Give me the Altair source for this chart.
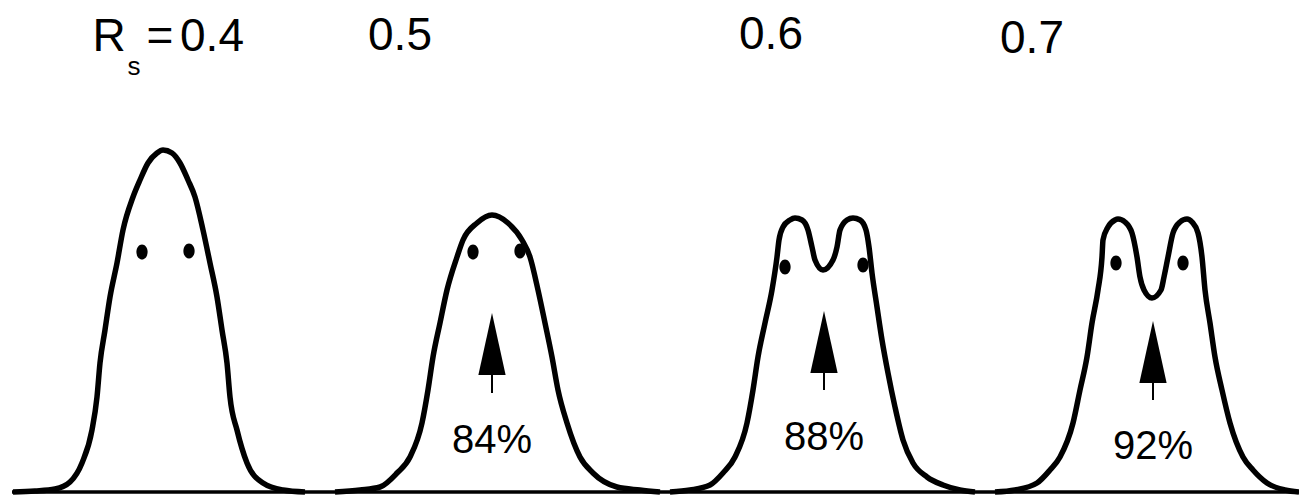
import altair as alt
import pandas as pd

# ---- peak profiles (time, detector signal) ----
c1_t = [0.13, 0.35, 0.55, 0.70, 0.82, 0.92, 0.97, 1.00, 1.05, 1.10, 1.17, 1.23, 1.33, 1.40, 1.48, 1.57, 1.63,
        1.72, 1.80, 1.88, 1.95, 2.03, 2.10, 2.17, 2.22, 2.27, 2.30, 2.37, 2.47, 2.63, 2.83, 3.05]
c1_s = [0.00, 0.01, 0.03, 0.10, 0.29, 0.62, 0.95, 1.29, 1.62, 1.95, 2.29, 2.62, 2.95, 3.12, 3.29, 3.39, 3.42,
        3.39, 3.29, 3.12, 2.95, 2.62, 2.29, 1.95, 1.62, 1.29, 0.95, 0.62, 0.29, 0.09, 0.02, 0.00]

c2_t = [3.35, 3.60, 3.80, 3.97, 4.10, 4.22, 4.28, 4.33, 4.40, 4.47, 4.57, 4.63, 4.77, 4.92,
        5.08, 5.22, 5.30, 5.38, 5.45, 5.52, 5.58, 5.67, 5.80, 5.93, 6.17, 6.40, 6.60]
c2_s = [0.00, 0.02, 0.05, 0.19, 0.35, 0.69, 1.02, 1.35, 1.69, 2.02, 2.35, 2.52, 2.69, 2.77,
        2.69, 2.52, 2.35, 2.02, 1.69, 1.35, 1.02, 0.69, 0.35, 0.19, 0.05, 0.02, 0.00]

c3_t = [6.70, 6.90, 7.10, 7.23, 7.35, 7.47, 7.53, 7.58, 7.65, 7.72, 7.77, 7.79, 7.83, 7.90, 7.95, 8.02,
        8.08, 8.12, 8.15, 8.23, 8.33, 8.37, 8.40, 8.47, 8.53, 8.60, 8.66, 8.69, 8.72, 8.77, 8.82,
        8.88, 8.95, 9.03, 9.13, 9.27, 9.43, 9.60, 9.75]
c3_s = [0.00, 0.02, 0.07, 0.19, 0.35, 0.69, 1.02, 1.35, 1.69, 2.02, 2.35, 2.52, 2.65, 2.72, 2.74, 2.72,
        2.62, 2.45, 2.32, 2.22, 2.32, 2.45, 2.62, 2.72, 2.74, 2.72, 2.62, 2.45, 2.19, 1.85, 1.52,
        1.19, 0.85, 0.52, 0.29, 0.15, 0.07, 0.02, 0.00]

c4_t = [9.95, 10.15, 10.37, 10.50, 10.60, 10.73, 10.80, 10.87, 10.92, 10.98, 11.02, 11.03, 11.08, 11.15,
        11.18, 11.25, 11.32, 11.37, 11.40, 11.44, 11.52, 11.61, 11.64, 11.68, 11.73, 11.80, 11.87,
        11.92, 11.98, 12.02, 12.05, 12.10, 12.15, 12.22, 12.30, 12.43, 12.53, 12.67, 12.85, 12.99]
c4_s = [0.00, 0.02, 0.09, 0.22, 0.35, 0.69, 1.02, 1.35, 1.69, 2.02, 2.35, 2.52, 2.65, 2.72,
        2.73, 2.70, 2.59, 2.35, 2.15, 2.02, 1.94, 2.02, 2.15, 2.35, 2.59, 2.70, 2.73,
        2.70, 2.59, 2.35, 2.02, 1.69, 1.35, 1.02, 0.69, 0.35, 0.22, 0.09, 0.02, 0.00]

resolutions = ["0.4", "0.5", "0.6", "0.7"]

# peak-position markers
dot_t = [1.42, 1.89, 4.73, 5.20, 7.85, 8.63, 11.16, 11.83]
dot_s = [2.40, 2.41, 2.40, 2.41, 2.25, 2.27, 2.29, 2.29]

# valley arrows and purity labels
arrow_t = [4.92, 8.24, 11.53]
arrow_tip = [1.79, 1.80, 1.70]
arrow_base = [1.17, 1.20, 1.10]
arrow_tail = [0.99, 1.02, 0.92]
pct_labels = ["84%", "88%", "92%"]
pct_s = [0.39, 0.42, 0.33]

# header labels
head_text = ["R", "s", "=", "0.4", "0.5", "0.6", "0.7"]
head_t = [1.09, 1.34, 1.60, 2.12, 4.00, 7.71, 10.32]
head_s = [4.41, 4.17, 4.41, 4.41, 4.42, 4.43, 4.39]
head_size = [46, 26, 46, 46, 46, 46, 46]

baseline_t = [0.12, 12.99]

# ---- tables ----
rows = []
for name, ts, ss in zip(resolutions, [c1_t, c2_t, c3_t, c4_t], [c1_s, c2_s, c3_s, c4_s]):
    for t, s in zip(ts, ss):
        rows.append({"curve": name, "t": t, "s": s})
curves = pd.DataFrame(rows)
dots = pd.DataFrame({"t": dot_t, "s": dot_s})
arrows = pd.DataFrame({"t": arrow_t, "tip": arrow_tip, "base": arrow_base, "tail": arrow_tail,
                       "label": pct_labels, "ls": pct_s})
heads = pd.DataFrame({"text": head_text, "t": head_t, "s": head_s, "size": head_size})
base = pd.DataFrame({"t": [baseline_t[0]], "t2": [baseline_t[1]], "s": [0.0]})

X = alt.Scale(domain=[0, 12.99], nice=False, zero=False)
Y = alt.Scale(domain=[-0.05, 4.92], nice=False, zero=False)
FONT = "Liberation Sans, Arial, Helvetica, sans-serif"

baseline = alt.Chart(base).mark_rule(color="black", strokeWidth=3.5).encode(
    x=alt.X("t:Q", scale=X, axis=None), x2="t2:Q", y=alt.Y("s:Q", scale=Y, axis=None))

lines = alt.Chart(curves).mark_line(color="black", strokeWidth=5.5, interpolate="monotone").encode(
    x=alt.X("t:Q", scale=X, axis=None), y=alt.Y("s:Q", scale=Y, axis=None), detail="curve:N")

ellipse = "M -0.75 0 A 0.75 1 0 1 0 0.75 0 A 0.75 1 0 1 0 -0.75 0 Z"
dot_marks = alt.Chart(dots).mark_point(shape=ellipse, size=225, filled=True, color="black", opacity=1).encode(
    x=alt.X("t:Q", scale=X, axis=None), y=alt.Y("s:Q", scale=Y, axis=None))

shafts = alt.Chart(arrows).mark_rule(color="black", strokeWidth=2).encode(
    x=alt.X("t:Q", scale=X, axis=None), y=alt.Y("base:Q", scale=Y, axis=None), y2="tail:Q")

tri = "M 0 -1 L 0.44 1 L -0.44 1 Z"
heads_arrow = alt.Chart(arrows).transform_calculate(mid="(datum.tip + datum.base) / 2").mark_point(
    shape=tri, size=3844, filled=True, color="black", opacity=1).encode(
    x=alt.X("t:Q", scale=X, axis=None), y=alt.Y("mid:Q", scale=Y, axis=None))

pct = alt.Chart(arrows).mark_text(font=FONT, fontSize=40, color="black", align="center",
                                  baseline="alphabetic").encode(
    x=alt.X("t:Q", scale=X, axis=None), y=alt.Y("ls:Q", scale=Y, axis=None), text="label:N")

header = alt.Chart(heads).mark_text(font=FONT, color="black", align="center", baseline="alphabetic").encode(
    x=alt.X("t:Q", scale=X, axis=None), y=alt.Y("s:Q", scale=Y, axis=None), text="text:N",
    size=alt.Size("size:Q", scale=None, legend=None))

chart = alt.layer(baseline, lines, dot_marks, shafts, heads_arrow, pct, header).properties(
    width=1299, height=497, padding=0, autosize=alt.AutoSizeParams(type="none"),
    background="white"
).configure_view(stroke=None)

chart.save("out.html", embed_options={"renderer": "svg", "actions": False})
